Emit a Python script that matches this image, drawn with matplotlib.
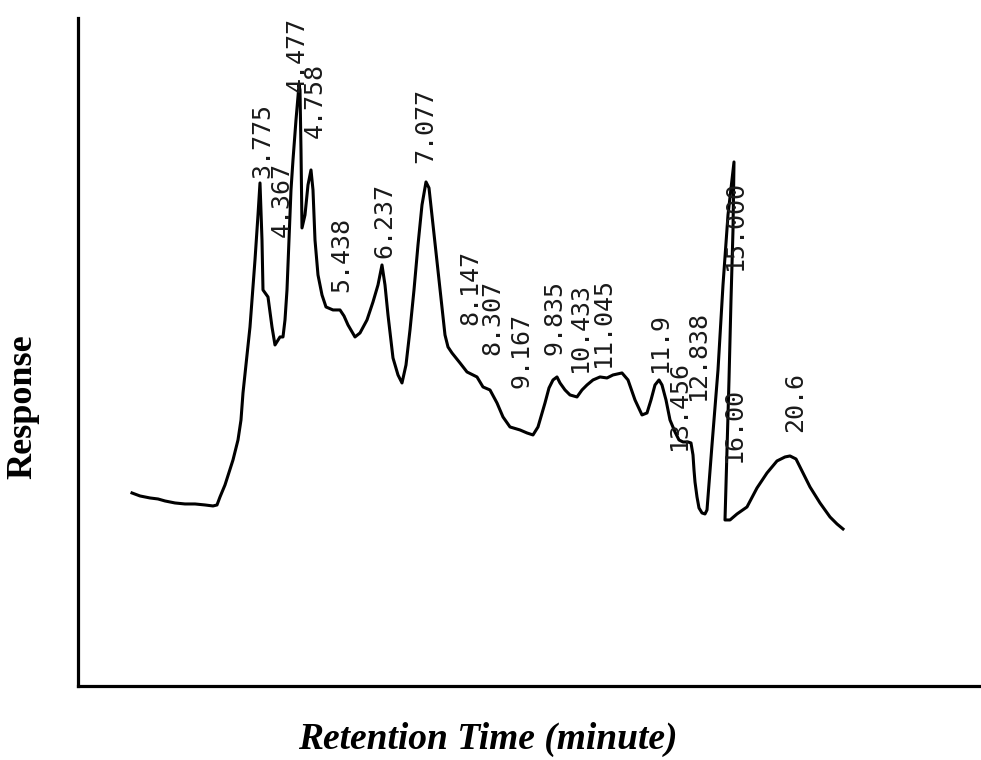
import matplotlib.pyplot as plt

# chromatogram trace (retention axis in plot units, response in plot units)
rt = [54, 62, 72, 80, 87, 97, 107, 117, 127, 135,
      139, 142, 147, 155, 160, 163, 165, 169, 172, 177,
      180, 182, 184, 185, 190, 194, 197, 202, 205, 207,
      209, 211, 213, 215, 218, 221, 222, 223, 224, 227,
      230, 233, 235, 237, 240, 244, 248, 255, 262, 266,
      270, 277, 282, 289, 295, 300, 304, 307, 310, 315,
      320, 324, 328, 332, 336, 340, 344, 348, 351, 355,
      359, 363, 367, 370, 374, 382, 389, 399, 405, 412,
      419, 425, 432, 442, 449, 455, 460, 467, 471, 475,
      479, 482, 487, 492, 499, 504, 509, 515, 522, 529,
      535, 544, 550, 557, 564, 569, 573, 577, 581, 584,
      588, 592, 597, 601, 605, 610, 613, 615, 616, 617,
      619, 621, 624, 627, 629, 634, 640, 645, 650, 656,
      655, 653, 651, 649, 647, 652, 659, 669, 679, 689,
      699, 707, 712, 718, 722, 732, 742, 752, 759, 765]
response = [193, 190, 188, 187, 185, 183, 182, 182, 181, 180,
            181, 189, 201, 226, 246, 266, 293, 331, 359, 426,
            471, 503, 446, 396, 389, 359, 341, 349, 349, 366,
            396, 446, 496, 526, 566, 601, 596, 536, 458, 471,
            501, 516, 496, 446, 411, 391, 379, 376, 376, 370,
            361, 349, 353, 366, 384, 401, 421, 401, 371, 328,
            311, 303, 321, 356, 396, 441, 481, 504, 498, 461,
            424, 386, 351, 339, 333, 323, 314, 309, 299, 296,
            283, 269, 259, 256, 253, 251, 259, 283, 298, 306,
            309, 303, 296, 291, 289, 296, 301, 306, 309, 308,
            311, 313, 306, 286, 271, 273, 286, 301, 306, 301,
            286, 266, 254, 246, 244, 244, 243, 231, 216, 204,
            189, 178, 173, 172, 176, 241, 316, 401, 471, 524,
            456, 386, 306, 236, 166, 166, 172, 179, 198, 213,
            225, 229, 230, 227, 219, 199, 183, 169, 162, 157]

# peak annotations: retention labels and where each one starts
peak_labels = ['3.775', '4.367', '4.477', '4.758', '5.438', '6.237',
               '7.077', '8.147', '8.307', '9.167', '9.835', '10.433', '11.045',
               '11.9', '12.838', '13.456', '15.000', '16.00', '20.6']
label_x = [184, 204, 219, 237, 263, 306, 347, 392, 414, 444, 477, 502, 525,
           582, 620, 601, 657, 656, 717]
label_y = [508, 449, 594, 548, 394, 428, 523, 361, 331, 298, 331, 314, 319,
           314, 286, 236, 416, 224, 254]

fig = plt.figure(figsize=(9.81, 7.6), dpi=100)
ax = fig.add_axes([0.0795, 0.0974, 0.9205, 0.879])

ax.plot(rt, response, color='black', linewidth=2.2, solid_joinstyle='round')

for lab, x, y in zip(peak_labels, label_x, label_y):
    ax.text(x, y, lab, rotation=90, ha='center', va='bottom',
            fontsize=18, family='DejaVu Sans Mono', color='#1a1a1a')

ax.set_xlim(0, 903)
ax.set_ylim(0, 668)
ax.set_xticks([])
ax.set_yticks([])
for side in ['top', 'right']:
    ax.spines[side].set_visible(False)
for side in ['left', 'bottom']:
    ax.spines[side].set_linewidth(2.3)

fig.text(0.023, 0.465, 'Response', rotation=90, ha='center', va='center',
         fontsize=26, fontweight='bold', family='Liberation Serif')
fig.text(0.497, 0.027, 'Retention Time (minute)', ha='center', va='center',
         fontsize=27, fontweight='bold', fontstyle='italic',
         family='Liberation Serif')

fig.savefig('out.png', dpi=100)
